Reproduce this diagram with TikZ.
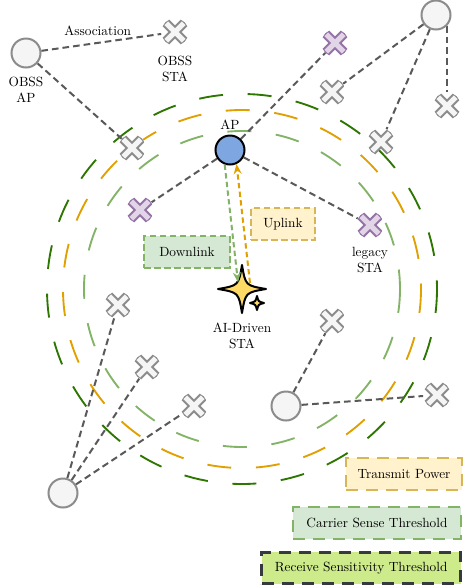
\documentclass[tikz,border=0pt]{standalone}
\usepackage{tikz}
\usetikzlibrary{positioning,arrows.meta,calc,backgrounds}
\usepackage{xcolor}
\definecolor{ringdark}{HTML}{2D7600}
\definecolor{ringorange}{HTML}{E0A000}
\definecolor{ringlight}{HTML}{82B366}
\definecolor{linegray}{HTML}{595959}
\definecolor{xgray}{HTML}{8C8C8C}
\definecolor{xfill}{HTML}{F5F5F5}
\definecolor{xpurple}{HTML}{9673A6}
\definecolor{xpurplefill}{HTML}{E1D5E7}
\definecolor{apblue}{HTML}{7EA6E0}
\definecolor{starfill}{HTML}{FFD966}
\definecolor{upfill}{HTML}{FFF2CC}
\definecolor{updraw}{HTML}{D6B656}
\definecolor{downfill}{HTML}{D5E8D4}
\definecolor{rxfill}{HTML}{CDEB8B}
\definecolor{rxdraw}{HTML}{36393D}
\tikzset{
  >=Stealth,
  ap/.style 2 args={circle, draw=#1, fill=#2, line width=1.5pt, minimum size=21.75pt, inner sep=0pt},
  sta/.style 2 args={circle, inner sep=0pt, minimum size=20.5pt,
    path picture={
      \draw[draw=#1, fill=#2, line width=1.5pt,
        shift={(path picture bounding box.center)}]
        (-12.2,6.9) -- (-6.9,12.2) -- (0,5.3) -- (6.9,12.2) -- (12.2,6.9)
        -- (5.3,0) -- (12.2,-6.9) -- (6.9,-12.2) -- (0,-5.3)
        -- (-6.9,-12.2) -- (-12.2,-6.9) -- (-5.3,0) -- cycle;}},
  spark/.style 2 args={circle, inner sep=0pt,
    path picture={
      \draw[fill=starfill, line width=1.5pt, line join=round,
        shift={(path picture bounding box.center)}]
        (0,#1) .. controls (#2,#2) .. (#1,0) .. controls (#2,-#2) .. (0,-#1)
        .. controls (-#2,-#2) .. (-#1,0) .. controls (-#2,#2) .. (0,#1) -- cycle;}},
  ring/.style={draw=#1, line width=1.4pt, dash pattern=on 18pt off 18.5pt},
  conn/.style={draw=linegray, line width=1.5pt, dash pattern=on 5pt off 3pt},
  tag/.style 2 args={draw=#1, fill=#2, line width=1.5pt, dash pattern=on 5pt off 2.5pt, minimum height=23.5pt},
  legbox/.style 2 args={draw=#1, fill=#2, line width=1.5pt, dash pattern=on 9pt off 6pt, minimum height=23.5pt, anchor=east},
}

\begin{document}
\begin{tikzpicture}[
  x=0.75pt, y=-0.75pt,
  every node/.style={font=\normalsize},
  dlink/.style={draw=ringlight, line width=1.5pt, dash pattern=on 4pt off 2.5pt, -{Stealth[length=7.5pt,width=6pt]}},
  ulink/.style={draw=ringorange, line width=1.5pt, dash pattern=on 4pt off 2.5pt, -{Stealth[length=7.5pt,width=6pt]}}
]
\useasboundingbox (0,0) rectangle (471,587);

\node[ap={black}{apblue}] (ap) at (230,150) {};
\node[spark={24}{3.5}, minimum size=38pt] (ai) at (242,289) {};
\node[spark={7}{1.4}, minimum size=13pt] (ai2) at (257,303) {};

\node[ap={xgray}{xfill}] (obssap) at (26,53) {};
\node[ap={xgray}{xfill}] (trap) at (436,15) {};
\node[ap={xgray}{xfill}] (blap) at (63,493) {};
\node[ap={xgray}{xfill}] (rap) at (286,406) {};

\node[sta={xgray}{xfill}] (obssta) at (175,32) {};
\node[sta={xgray}{xfill}] (x1) at (132,148) {};
\node[sta={xpurple}{xpurplefill}] (xp1) at (335,43) {};
\node[sta={xpurple}{xpurplefill}] (xp2) at (140,210) {};
\node[sta={xpurple}{xpurplefill}] (legacy) at (370,225) {};
\node[sta={xgray}{xfill}] (x2) at (332,92) {};
\node[sta={xgray}{xfill}] (x3) at (381,142) {};
\node[sta={xgray}{xfill}] (x4) at (447,106) {};
\node[sta={xgray}{xfill}] (x5) at (118,305) {};
\node[sta={xgray}{xfill}] (x6) at (147,367) {};
\node[sta={xgray}{xfill}] (x7) at (194,406) {};
\node[sta={xgray}{xfill}] (x8) at (332,321) {};
\node[sta={xgray}{xfill}] (x9) at (437,395) {};

\node[above=0pt of ap] {AP};
\node[below=3pt of obssap, align=center] {OBSS\\AP};
\node[below=4pt of obssta, align=center] {OBSS\\STA};
\node[below=3pt of legacy, align=center] {legacy\\STA};
\node[below=3pt of ai, align=center] {AI-Driven\\STA};

\node[tag={ringlight}{downfill}, minimum width=64pt] (down) at (187,252) {Downlink};
\node[tag={updraw}{upfill}, minimum width=48pt] (up) at (283,224) {Uplink};

\draw[dlink] (ap.250) -- ([xshift=-3pt,yshift=5pt]ai.center);
\draw[ulink] ([xshift=6pt,yshift=4.5pt]ai.center) -- (ap.295);

\begin{scope}[on background layer]
\draw[ring=ringdark] (ai) circle[radius=195];
\draw[ring=ringorange] (ai) circle[radius=179];
\draw[ring=ringlight] (ai) circle[radius=158];

\path[conn]
(obssap) edge node[above=1pt, pos=.47] {Association} (obssta)
(obssap) edge (x1)
(ap) edge (xp1)
(ap) edge (xp2)
(ap) edge (legacy)
(trap) edge (x2)
(trap) edge (x3)
(trap.-45) edge (trap.-45 |- x4.north)
(blap) edge (x5)
(blap) edge (x6)
(blap) edge (x7)
(rap) edge (x8)
(rap) edge (x9);
\end{scope}

\node[legbox={updraw}{upfill}, minimum width=87pt] (txp) at (463,474) {Transmit Power};
\node[legbox={ringlight}{downfill}, minimum width=126pt] (cst) at (462,523) {Carrier Sense Threshold};
\node[legbox={rxdraw}{rxfill}, minimum width=149pt, line width=2.2pt] (rst) at (462,568) {Receive Sensitivity Threshold};

\end{tikzpicture}
\end{document}
